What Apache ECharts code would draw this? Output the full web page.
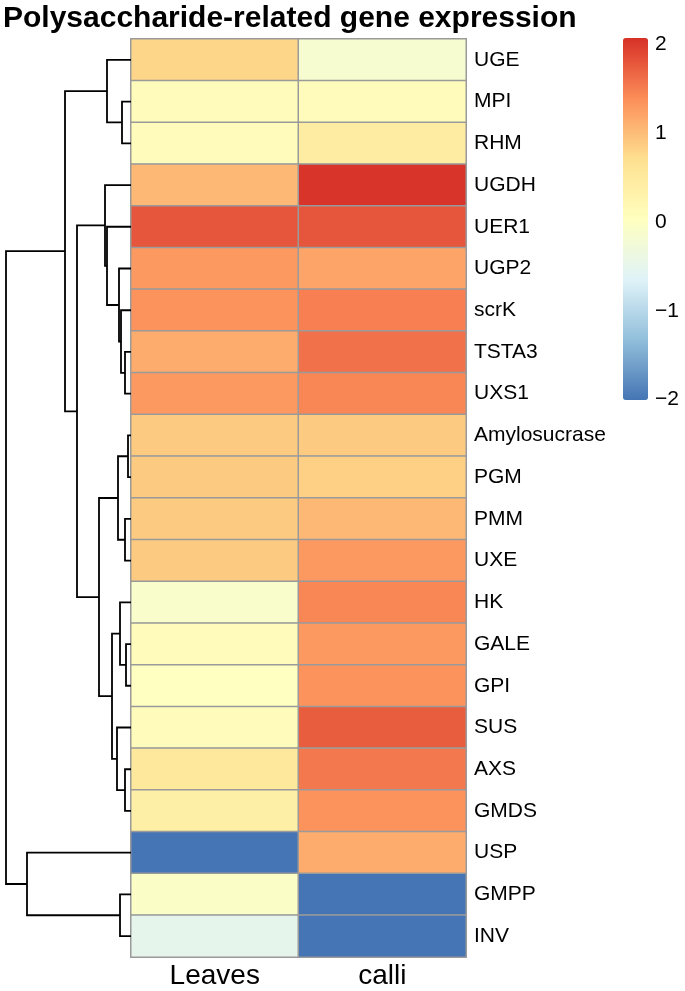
<!DOCTYPE html>
<html><head><meta charset="utf-8">
<script src="https://cdn.jsdelivr.net/npm/echarts@6/dist/echarts.min.js"></script>
<style>html,body{margin:0;padding:0;background:#fff}#c{width:685px;height:991px}</style>
</head><body><div id="c"></div>
<script>
const titleText = 'Polysaccharide-related gene expression';
const genes = ['UGE','MPI','RHM','UGDH','UER1','UGP2','scrK','TSTA3','UXS1','Amylosucrase','PGM','PMM','UXE','HK','GALE','GPI','SUS','AXS','GMDS','USP','GMPP','INV'];
const samples = ['Leaves','calli'];
const leavesValues = [0.8,0.1,0.1,1.05,1.8,1.3,1.35,1.15,1.3,0.9,0.9,0.9,0.9,-0.1,0.1,0.02,0.1,0.55,0.4,-2.0,-0.05,-0.5];
const calliValues  = [-0.15,0.1,0.45,2.05,1.8,1.2,1.5,1.6,1.45,0.9,0.85,1.05,1.3,1.45,1.3,1.35,1.75,1.55,1.35,1.15,-2.0,-2.0];
// hierarchical clustering merges: [childA, childB, height]; result named n1, n2, ...
const merges = [
  ['MPI','RHM',0.36],
  ['UGE','n1',0.96],
  ['TSTA3','UXS1',0.24],
  ['scrK','n3',0.40],
  ['UGP2','n4',0.48],
  ['UER1','n5',0.96],
  ['UGDH','n6',1.04],
  ['Amylosucrase','PGM',0.12],
  ['PMM','UXE',0.24],
  ['n8','n9',0.52],
  ['GALE','GPI',0.20],
  ['HK','n11',0.44],
  ['AXS','GMDS',0.24],
  ['SUS','n13',0.56],
  ['n12','n14',0.76],
  ['n10','n15',1.28],
  ['n7','n16',2.16],
  ['n2','n17',2.64],
  ['GMPP','INV',0.44],
  ['USP','n19',4.16],
  ['n18','n20',5.00]
];
const legendTicks = ['2','1','0','\u22121','\u22122'];
const legendTickValues = [2,1,0,-1,-2];
const palette = ['#4575B4','#91BFDB','#E0F3F8','#FFFFBF','#FEE090','#FC8D59','#D73027'];

const FONT = '"Liberation Sans", Arial, Helvetica, sans-serif';
const gridTop = 39, gridH = 918;

// heatmap data
const heatData = [];
genes.forEach((g,i)=>{
  heatData.push([0,i,leavesValues[i]]);
  heatData.push([1,i,calliValues[i]]);
});

// dendrogram
const nodes = {};
genes.forEach((g,i)=>{ nodes[g] = {y:i, h:0}; });
const dendroLines = [];
merges.forEach((m,k)=>{
  const a = nodes[m[0]], b = nodes[m[1]], h = m[2];
  dendroLines.push({coords:[[a.h,a.y],[h,a.y],[h,b.y],[b.h,b.y]]});
  nodes['n'+(k+1)] = {y:(a.y+b.y)/2, h:h};
});
const maxH = merges[merges.length-1][2];

const vmMin = -2, vmMax = 2.08;
const barTop = 38, barH = 362;
const legendGraphics = legendTickValues.map((v,i)=>({
  type:'text', left:655, top: barTop + (vmMax - v)/(vmMax - vmMin)*barH - 11,
  style:{text:legendTicks[i], font:'21px '+FONT, fill:'#000'}
}));

const chart = echarts.init(document.getElementById('c'), null, {renderer:'canvas'});
chart.setOption({
  backgroundColor:'#fff',
  animation:false,
  title:{text:titleText, left:3, top:4, padding:0,
    textStyle:{fontFamily:FONT, fontWeight:'bold', fontSize:30, color:'#000'}},
  grid:[
    {left:131, width:335, top:gridTop, height:gridH},
    {left:6, width:125, top:gridTop, height:gridH}
  ],
  xAxis:[
    {type:'category', gridIndex:0, data:samples, position:'bottom',
     axisLine:{show:false}, axisTick:{show:false}, splitLine:{show:false},
     axisLabel:{fontFamily:FONT, fontSize:28, color:'#000', margin:5}},
    {type:'value', gridIndex:1, min:0, max:maxH, inverse:true, show:false}
  ],
  yAxis:[
    {type:'category', gridIndex:0, data:genes, inverse:true, position:'right',
     axisLine:{show:false}, axisTick:{show:false}, splitLine:{show:false},
     axisLabel:{fontFamily:FONT, fontSize:21, color:'#000', margin:8}},
    {type:'value', gridIndex:1, min:-0.5, max:genes.length-0.5, inverse:true, show:false}
  ],
  visualMap:{
    type:'continuous', min:vmMin, max:vmMax, seriesIndex:0, orient:'vertical',
    left:623, top:barTop, itemWidth:25, itemHeight:barH, padding:0,
    calculable:false, text:null, showLabel:false, hoverLink:false,
    inRange:{color:palette}
  },
  graphic: legendGraphics,
  series:[
    {type:'heatmap', xAxisIndex:0, yAxisIndex:0, data:heatData,
     itemStyle:{borderColor:'#9a9a9a', borderWidth:1.5},
     emphasis:{disabled:true}},
    {type:'lines', coordinateSystem:'cartesian2d', xAxisIndex:1, yAxisIndex:1,
     polyline:true, data:dendroLines, silent:true,
     lineStyle:{color:'#000', width:1.8, opacity:1}}
  ]
});
</script></body></html>
